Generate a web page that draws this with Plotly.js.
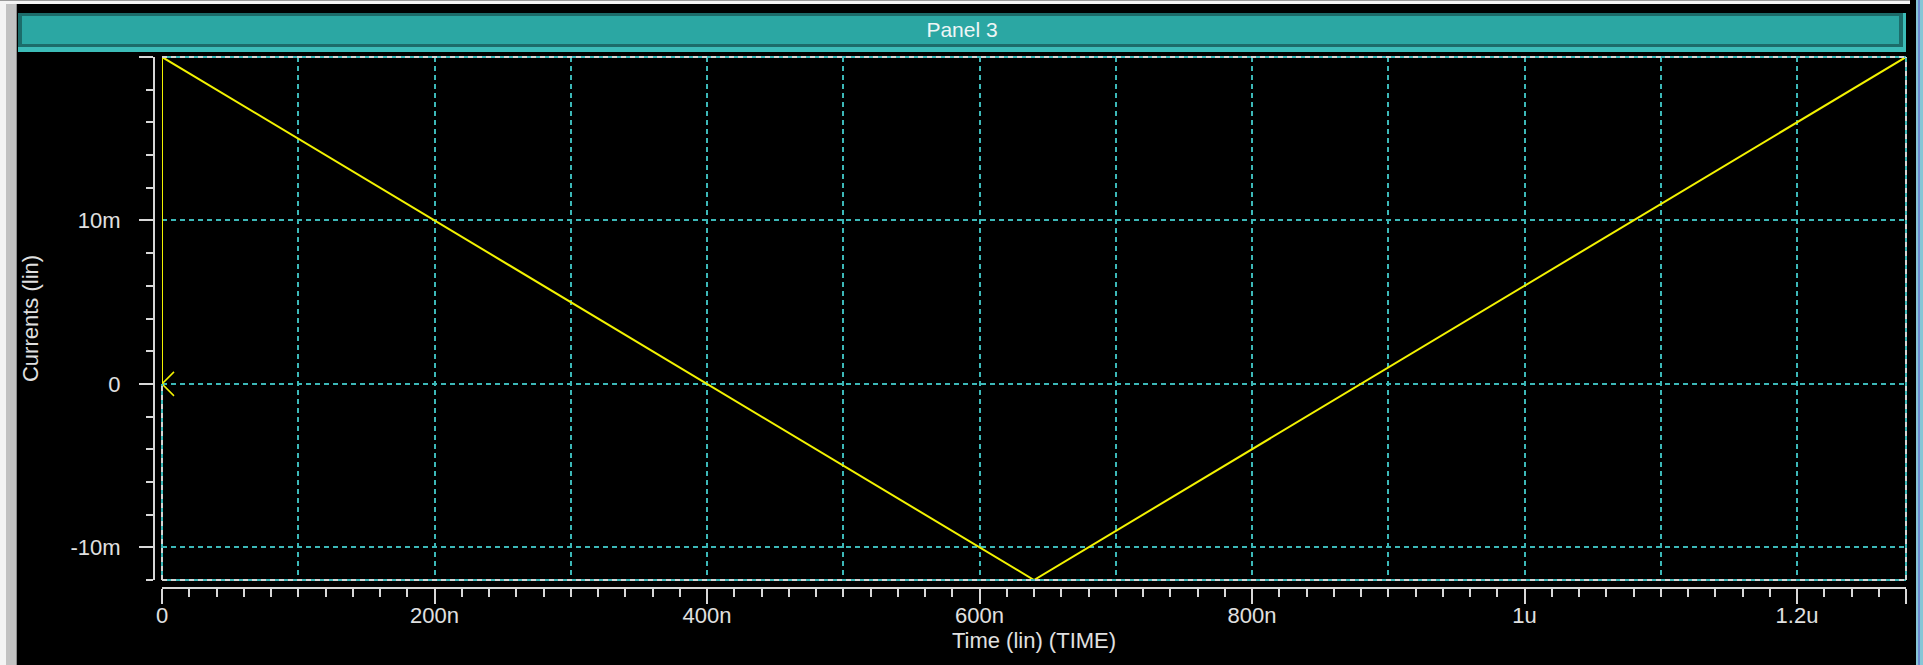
<!DOCTYPE html>
<html>
<head>
<meta charset="utf-8">
<script src="https://cdn.plot.ly/plotly-3.0.1.min.js"></script>
<style>html,body{margin:0;padding:0;background:#000;}#chart{width:1923px;height:665px;}</style>
</head>
<body>
<div id="chart"></div>
<script>
// ---- data ----
const timeSec = [0, 0, 640e-9, 1280e-9];
const currentA = [0, 20e-3, -12e-3, 20e-3];
const markerTime = [0];
const markerCurrent = [0];
const xTickVals = [0, 200e-9, 400e-9, 600e-9, 800e-9, 1000e-9, 1200e-9, 1280e-9];
const xTickText = ['0', '200n', '400n', '600n', '800n', '1u', '1.2u', ''];
const yTickVals = [-10e-3, 0, 10e-3, 20e-3];
const yTickText = ['-10m', '0', '10m', ''];
const xRange = [0, 1280e-9];
const yRange = [-12e-3, 20e-3];

// ---- geometry helpers (pixels -> paper) ----
const W = 1923, H = 665;
const L = 154, R = 17, T = 57, B = 77;
const PW = W - L - R, PH = H - T - B;
const px = v => (v - L) / PW;
const py = v => (H - B - v) / PH;
const xDom = [8 / PW, 1];
const yDom = [8 / PH, 1];

const tickCol = '#d8d8d8';
const gridCol = '#3cb8b8';
const fontFam = '"Liberation Sans", Arial, sans-serif';

const traces = [
  {x: timeSec, y: currentA, type: 'scatter', mode: 'lines', xaxis: 'x', yaxis: 'y',
   line: {color: '#f2f200', width: 2}, cliponaxis: false, hoverinfo: 'skip', showlegend: false},
  {x: markerTime, y: markerCurrent, type: 'scatter', mode: 'markers', xaxis: 'x', yaxis: 'y',
   marker: {symbol: 'x-thin-open', size: 24, color: '#f2f200', line: {color: '#f2f200', width: 1.5}},
   cliponaxis: true, hoverinfo: 'skip', showlegend: false},
  {x: timeSec, y: currentA, type: 'scatter', mode: 'lines', xaxis: 'x2', yaxis: 'y2',
   opacity: 0, line: {width: 0}, hoverinfo: 'skip', showlegend: false}
];

function rect(x0, y0, x1, y1, fill) {
  return {type: 'rect', xref: 'paper', yref: 'paper', x0: px(x0), x1: px(x1), y0: py(y1), y1: py(y0),
          fillcolor: fill, line: {width: 0}, layer: 'below'};
}
function border(x0, y0, x1, y1, yref) {
  return [
    {type: 'line', xref: 'x domain', yref: yref, x0: x0, x1: x1, y0: y0, y1: y1,
     line: {color: gridCol, width: 2}, layer: 'above'},
    {type: 'line', xref: 'x domain', yref: yref, x0: x0, x1: x1, y0: y0, y1: y1,
     line: {color: '#d4d4d4', width: 2, dash: '5px,4px'}, layer: 'above'}
  ];
}

const shapes = [
  rect(0, 0, 6, 665, '#f4f4f4'),
  rect(6, 0, 16, 665, '#c2c2c2'),
  rect(16, 0, 17, 665, '#8a8a8a'),
  rect(0, 0, 1910, 1, '#9a9a9a'),
  rect(6, 1, 1910, 4, '#f4f4f4'),
  rect(1916, 0, 1923, 665, '#86c6d6'),
  rect(1918, 0, 1920, 665, '#6c8ad0'),
  rect(18, 13, 1906, 52, '#3cbcb8'),
  rect(18, 13, 1903, 47, '#1c6c6a'),
  rect(22, 16, 1899, 44, '#2ba7a3'),
  ...border(0, 1, 1, 1, 'y domain'),
  ...border(0, 0, 1, 0, 'y domain'),
  ...border(1, 0, 1, 1, 'y domain'),
  ...border(0, yRange[0], 0, 0, 'y')
];

const layout = {
  width: W, height: H,
  margin: {l: L, r: R, t: T, b: B, pad: 0},
  paper_bgcolor: '#000000', plot_bgcolor: '#000000',
  showlegend: false,
  font: {family: fontFam, size: 22, color: '#e0e0e0'},
  title: {text: 'Panel 3', xref: 'container', yref: 'container', x: 962 / W, y: 1 - 30 / H,
          xanchor: 'center', yanchor: 'middle', font: {family: fontFam, size: 21, color: '#eef6f6'}},
  xaxis: {domain: xDom, range: xRange, anchor: 'y', showgrid: true, gridcolor: gridCol, gridwidth: 2,
          griddash: '5px,4px', tickmode: 'linear', tick0: 0, dtick: 100e-9, showticklabels: false,
          ticks: '', zeroline: false, showline: false, fixedrange: true},
  yaxis: {domain: yDom, range: yRange, anchor: 'x', showgrid: true, gridcolor: gridCol, gridwidth: 2,
          griddash: '5px,4px', tickmode: 'linear', tick0: 0, dtick: 10e-3, showticklabels: false,
          ticks: '', zeroline: false, showline: false, fixedrange: true},
  xaxis2: {domain: xDom, range: xRange, overlaying: 'x', anchor: 'free', position: 0, side: 'bottom',
           showgrid: false, zeroline: false, showline: true, linecolor: tickCol, linewidth: 2,
           tickmode: 'array', tickvals: xTickVals, ticktext: xTickText, ticks: 'outside', ticklen: 15,
           tickwidth: 2, tickcolor: tickCol, ticklabelstandoff: -7,
           tickfont: {family: fontFam, size: 22, color: '#e0e0e0'},
           minor: {ticks: 'outside', tickmode: 'linear', tick0: 0, dtick: 20e-9, ticklen: 8,
                   tickwidth: 2, tickcolor: tickCol, showgrid: false},
           title: {text: 'Time (lin) (TIME)', standoff: 4, font: {family: fontFam, size: 22, color: '#e0e0e0'}},
           fixedrange: true},
  yaxis2: {domain: yDom, range: yRange, overlaying: 'y', anchor: 'free', position: 0, side: 'left',
           showgrid: false, zeroline: false, showline: true, linecolor: tickCol, linewidth: 2,
           tickmode: 'array', tickvals: yTickVals, ticktext: yTickText, ticks: 'outside', ticklen: 14,
           tickwidth: 2, tickcolor: tickCol, ticklabelstandoff: 14,
           tickfont: {family: fontFam, size: 22, color: '#e0e0e0'},
           minor: {ticks: 'outside', tickmode: 'linear', tick0: 0, dtick: 2e-3, ticklen: 7,
                   tickwidth: 2, tickcolor: tickCol, showgrid: false},
           title: {text: 'Currents (lin)', standoff: 25, font: {family: fontFam, size: 22, color: '#e0e0e0'}},
           fixedrange: true},
  shapes: shapes
};

Plotly.newPlot('chart', traces, layout, {displayModeBar: false, staticPlot: true});
</script>
</body>
</html>
